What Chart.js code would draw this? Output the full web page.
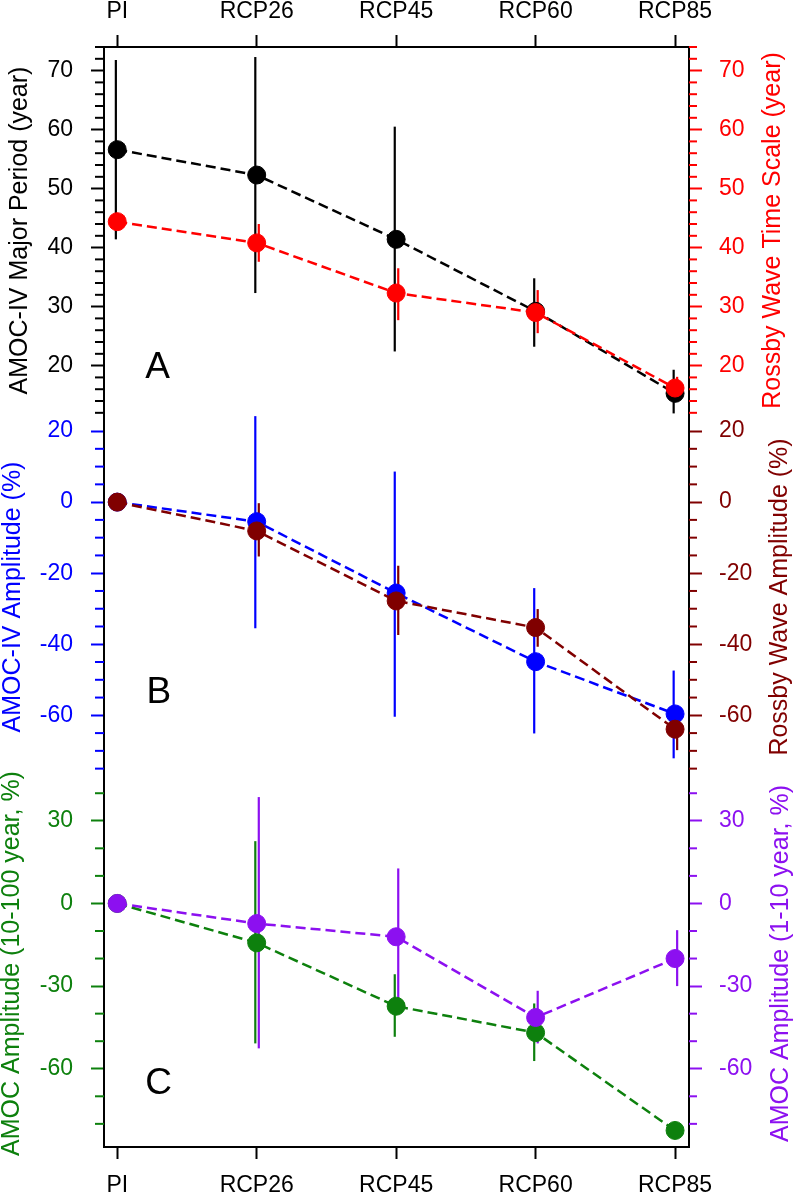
<!DOCTYPE html>
<html>
<head>
<meta charset="utf-8">
<script src="https://cdn.jsdelivr.net/npm/chart.js@4.4.0/dist/chart.umd.min.js"></script>
<style>
  html, body { margin: 0; padding: 0; background: #fff; }
  #wrap { position: relative; width: 793px; height: 1196px; overflow: hidden; }
  canvas { position: absolute; left: 0; }
</style>
</head>
<body>
<div id="wrap">
  <canvas id="panelA" width="793" height="414" style="top:0px"></canvas>
  <canvas id="panelB" width="793" height="366" style="top:414px"></canvas>
  <canvas id="panelC" width="793" height="456" style="top:740px"></canvas>
</div>
<script>
// scenarios on the x axis
const categories = ['PI', 'RCP26', 'RCP45', 'RCP60', 'RCP85'];

// panel A: periods (year)
const amocPeriod     = [56.6, 52.3, 41.4, 29.2, 15.3];
const amocPeriodLow  = [41.4, 32.3, 22.4, 23.2, 11.9];
const amocPeriodHigh = [71.8, 72.3, 60.5, 34.8, 19.3];
const rossbyPeriod     = [44.4, 40.8, 32.3, 29.0, 16.2];
const rossbyPeriodLow  = [44.4, 37.6, 27.7, 25.5, 14.2];
const rossbyPeriodHigh = [44.4, 44.0, 36.5, 32.8, 18.1];

// panel B: amplitude change (%)
const amocAmp     = [0, -5.5, -25.6, -44.9, -59.6];
const amocAmpLow  = [0, -35.5, -60.4, -65.1, -72.1];
const amocAmpHigh = [0, 24.2, 8.6, -24.2, -47.4];
const rossbyAmp     = [0, -8.1, -27.8, -35.3, -63.9];
const rossbyAmpLow  = [0, -15.3, -37.4, -40.7, -69.8];
const rossbyAmpHigh = [0, -0.3, -17.9, -30.1, -59.4];

// panel C: AMOC amplitude by band (%)
const amocDecadal     = [0, -14.3, -37.3, -46.9, -82.4];
const amocDecadalLow  = [0, -50.8, -48.4, -57.2, -82.4];
const amocDecadalHigh = [0, 22.6, -25.7, -36.3, -82.4];
const amocShort     = [0, -7.3, -12.1, -41.4, -20.0];
const amocShortLow  = [0, -52.6, -37.0, -50.8, -30.0];
const amocShortHigh = [0, 38.6, 12.7, -31.7, -9.7];

// tick labels
const xTicks = [0, 1, 2, 3, 4];
const ticksA = [20, 30, 40, 50, 60, 70];
const ticksB = [-60, -40, -20, 0, 20];
const ticksC = [-60, -30, 0, 30];

const BLACK = '#000000', RED = '#ff0000', BLUE = '#0000ff', MAROON = '#800000',
      GREEN = '#0d800d', PURPLE = '#8c10f0';
const FONT = "'Liberation Sans', Arial, sans-serif";
Chart.defaults.font.family = FONT;

const pts = vals => vals.map((v, i) => ({ x: i, y: v }));

function series(label, vals, color, axis) {
  return {
    label, data: pts(vals), yAxisID: axis,
    borderColor: color, backgroundColor: color, borderWidth: 2.5, borderDash: [10, 5],
    pointRadius: 9, pointBackgroundColor: color, pointBorderColor: color, pointBorderWidth: 1,
    tension: 0
  };
}

function yAxis(pos, min, max, majors, color) {
  return {
    type: 'linear', position: pos, min, max,
    afterBuildTicks: s => { s.ticks = majors.map(v => ({ value: v })); },
    afterFit: s => { s.width = 104; s.paddingTop = 0; s.paddingBottom = 0; },
    grid: { drawOnChartArea: false, tickLength: 13, tickWidth: 2, tickColor: color, color },
    border: { display: true, color: BLACK, width: 2 },
    ticks: { color, font: { size: 23 }, padding: pos === 'left' ? 18 : 17 }
  };
}

function xAxis(pos, h, pad) {
  return {
    type: 'linear', position: pos, min: -0.095, max: 4.1,
    afterBuildTicks: s => { s.ticks = xTicks.map(v => ({ value: v })); },
    afterFit: s => { if (h) s.height = h; s.paddingLeft = 0; s.paddingRight = 0; },
    grid: { drawOnChartArea: false, tickLength: 12, tickWidth: 2, tickColor: BLACK },
    border: { display: true, color: BLACK, width: 2 },
    ticks: { color: BLACK, font: { size: 23 }, padding: pad, autoSkip: false, maxRotation: 0,
             callback: v => categories[v] }
  };
}

// per-panel decorations: error bars, minor ticks, axis titles, panel letter
const decor = {
  panelA: {
    bars: [
      { axis: 'yL', low: amocPeriodLow, high: amocPeriodHigh, color: BLACK, dx: -0.01 },
      { axis: 'yR', low: rossbyPeriodLow, high: rossbyPeriodHigh, color: RED, dx: 0.015 }
    ],
    minor: [{ axis: 'yL', step: 2, majors: ticksA, color: BLACK }, { axis: 'yR', step: 2, majors: ticksA, color: RED }],
    titles: [
      { text: 'AMOC-IV Major Period (year)', color: BLACK, x: 27 },
      { text: 'Rossby Wave Time Scale (year)', color: RED, x: 780 }
    ],
    letter: { text: 'A', x: 0.2, y: 17.9, axis: 'yL' }
  },
  panelB: {
    bars: [
      { axis: 'yL', low: amocAmpLow, high: amocAmpHigh, color: BLUE, dx: -0.01 },
      { axis: 'yR', low: rossbyAmpLow, high: rossbyAmpHigh, color: MAROON, dx: 0.015 }
    ],
    minor: [{ axis: 'yL', step: 5, majors: ticksB, color: BLUE }, { axis: 'yR', step: 5, majors: ticksB, color: MAROON }],
    titles: [
      { text: 'AMOC-IV Amplitude (%)', color: BLUE, x: 19.5 },
      { text: 'Rossby Wave Amplitude (%)', color: MAROON, x: 787 }
    ],
    letter: { text: 'B', x: 0.21, y: -56.4, axis: 'yL' }
  },
  panelC: {
    bars: [
      { axis: 'yL', low: amocDecadalLow, high: amocDecadalHigh, color: GREEN, dx: -0.01 },
      { axis: 'yR', low: amocShortLow, high: amocShortHigh, color: PURPLE, dx: 0.015 }
    ],
    minor: [{ axis: 'yL', step: 10, majors: ticksC, color: GREEN }, { axis: 'yR', step: 10, majors: ticksC, color: PURPLE }],
    titles: [
      { text: 'AMOC Amplitude (10-100 year, %)', color: GREEN, x: 18.5 },
      { text: 'AMOC Amplitude (1-10 year, %)', color: PURPLE, x: 788 }
    ],
    letter: { text: 'C', x: 0.2, y: -69.2, axis: 'yL' }
  }
};

const panelDecor = {
  id: 'panelDecor',
  beforeDatasetsDraw(chart) {
    const d = decor[chart.canvas.id], ctx = chart.ctx, xs = chart.scales.x, a = chart.chartArea;
    ctx.save();
    ctx.beginPath(); ctx.rect(a.left, a.top, a.right - a.left, a.bottom - a.top); ctx.clip();
    ctx.lineWidth = 2.2;
    d.bars.forEach(b => {
      const ys = chart.scales[b.axis];
      ctx.strokeStyle = b.color;
      b.low.forEach((lo, i) => {
        const hi = b.high[i];
        if (hi - lo <= 0) return;
        const x = xs.getPixelForValue(i + b.dx);
        ctx.beginPath();
        ctx.moveTo(x, ys.getPixelForValue(lo));
        ctx.lineTo(x, ys.getPixelForValue(hi));
        ctx.stroke();
      });
    });
    ctx.restore();
  },
  afterDraw(chart) {
    const d = decor[chart.canvas.id], ctx = chart.ctx, a = chart.chartArea;
    ctx.save();
    // minor ticks
    ctx.lineWidth = 2;
    d.minor.forEach(m => {
      const s = chart.scales[m.axis];
      ctx.strokeStyle = m.color;
      for (let v = Math.ceil(s.min / m.step) * m.step; v <= s.max + 1e-6; v += m.step) {
        if (m.majors.includes(v)) continue;
        const y = s.getPixelForValue(v);
        ctx.beginPath();
        if (s.position === 'left') { ctx.moveTo(s.right - 9, y); ctx.lineTo(s.right, y); }
        else { ctx.moveTo(s.left, y); ctx.lineTo(s.left + 8, y); }
        ctx.stroke();
      }
    });
    // axis titles, rotated, reading upward
    ctx.font = '25px ' + FONT;
    ctx.textAlign = 'center';
    ctx.textBaseline = 'alphabetic';
    const yc = (a.top + a.bottom) / 2;
    d.titles.forEach(t => {
      ctx.save();
      ctx.translate(t.x, yc);
      ctx.rotate(-Math.PI / 2);
      ctx.fillStyle = t.color;
      ctx.fillText(t.text, 0, 0);
      ctx.restore();
    });
    // panel letter
    const L = d.letter;
    ctx.font = '37px ' + FONT;
    ctx.textAlign = 'left';
    ctx.fillStyle = BLACK;
    ctx.fillText(L.text, chart.scales.x.getPixelForValue(L.x), chart.scales[L.axis].getPixelForValue(L.y));
    ctx.restore();
  }
};

function makePanel(id, datasets, xcfg, yL, yR, padTop) {
  new Chart(document.getElementById(id), {
    type: 'line',
    data: { datasets },
    options: {
      responsive: false, animation: false, events: [],
      layout: { autoPadding: false, padding: { top: padTop, left: 0, right: 0, bottom: 0 } },
      plugins: { legend: { display: false }, tooltip: { enabled: false } },
      scales: { x: xcfg, yL, yR }
    },
    plugins: [panelDecor]
  });
}

makePanel('panelA',
  [series('Rossby Wave Time Scale', rossbyPeriod, RED, 'yR'),
   series('AMOC-IV Major Period', amocPeriod, BLACK, 'yL')],
  xAxis('top', 47, 10),
  yAxis('left', 11.8, 74, ticksA, BLACK),
  yAxis('right', 11.8, 74, ticksA, RED), 0);

makePanel('panelB',
  [series('Rossby Wave Amplitude', rossbyAmp, MAROON, 'yR'),
   series('AMOC-IV Amplitude', amocAmp, BLUE, 'yL')],
  Object.assign(xAxis('bottom', 0, 0), { display: false }),
  yAxis('left', -78.2, 24.8, ticksB, BLUE),
  yAxis('right', -78.2, 24.8, ticksB, MAROON), 0);

makePanel('panelC',
  [series('AMOC Amplitude (1-10 year)', amocShort, PURPLE, 'yR'),
   series('AMOC Amplitude (10-100 year)', amocDecadal, GREEN, 'yL')],
  xAxis('bottom', 49, 13),
  yAxis('left', -88.4, 44.8, ticksC, GREEN),
  yAxis('right', -88.4, 44.8, ticksC, PURPLE), 40);
</script>
</body>
</html>
